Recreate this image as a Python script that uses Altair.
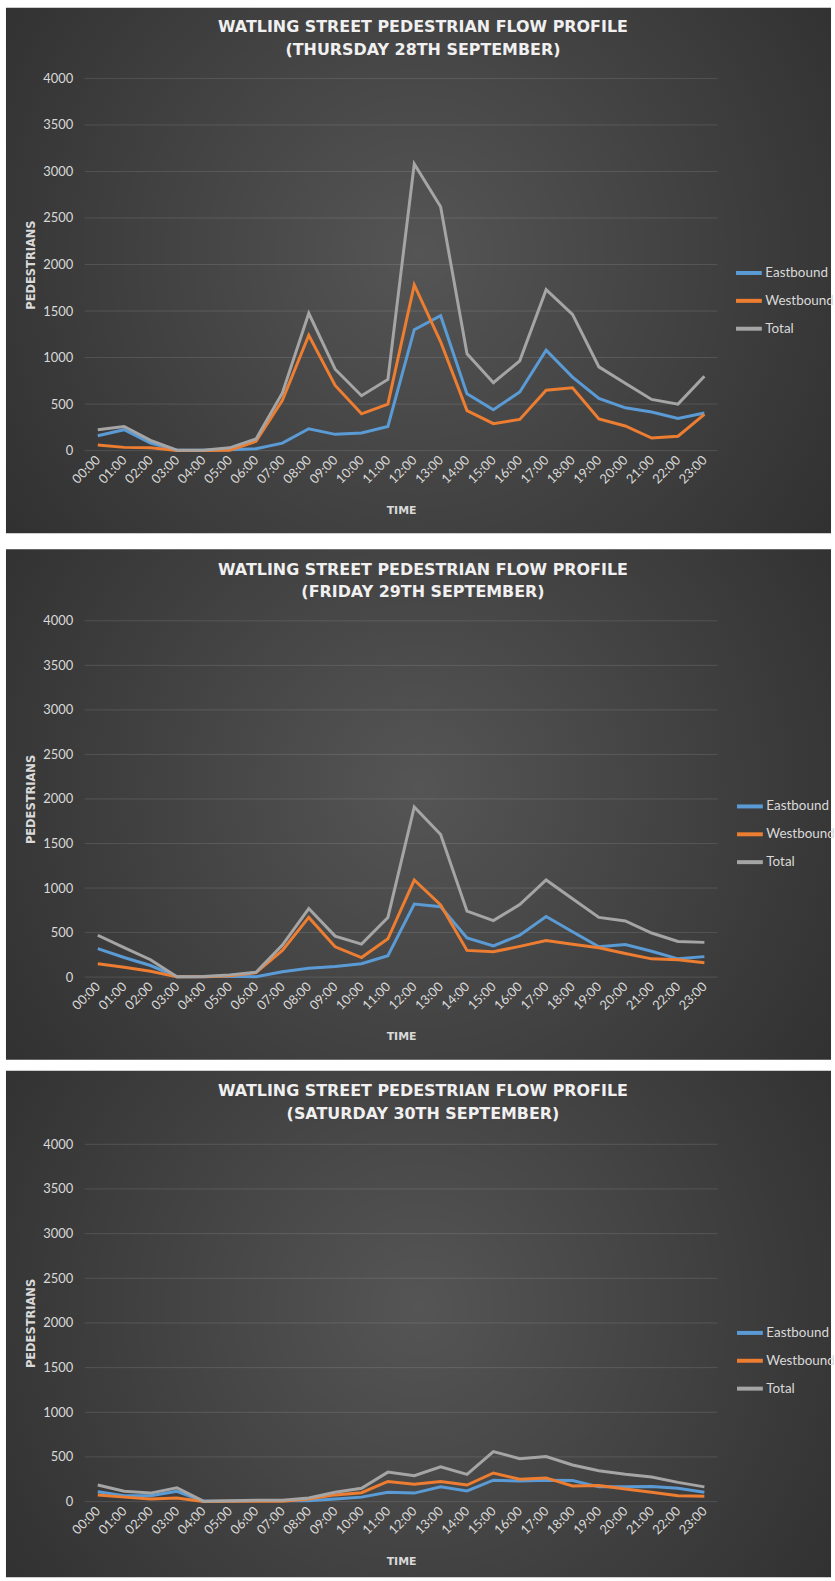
import altair as alt
import pandas as pd

# ---------------- data ----------------
hours = ["00:00", "01:00", "02:00", "03:00", "04:00", "05:00", "06:00", "07:00",
         "08:00", "09:00", "10:00", "11:00", "12:00", "13:00", "14:00", "15:00",
         "16:00", "17:00", "18:00", "19:00", "20:00", "21:00", "22:00", "23:00"]
series_names = ["Eastbound", "Westbound", "Total"]
series_colors = ["#5B9BD5", "#ED7D31", "#A5A5A5"]
y_ticks = [0, 500, 1000, 1500, 2000, 2500, 3000, 3500, 4000]

title_line1 = "WATLING STREET PEDESTRIAN FLOW PROFILE"
title_thu = "(THURSDAY 28TH SEPTEMBER)"
title_fri = "(FRIDAY 29TH SEPTEMBER)"
title_sat = "(SATURDAY 30TH SEPTEMBER)"

thu_east = [160, 225, 80, 5, 5, 10, 20, 80, 235, 175, 190, 260, 1300, 1450, 610, 440, 630, 1080, 790, 560, 460, 415, 345, 405]
thu_west = [60, 35, 30, 2, 2, 5, 100, 540, 1240, 700, 395, 500, 1780, 1170, 430, 290, 335, 650, 675, 340, 265, 135, 155, 390]
thu_total = [225, 260, 110, 5, 5, 30, 125, 620, 1475, 875, 590, 765, 3080, 2620, 1040, 730, 965, 1730, 1465, 900, 725, 550, 500, 800]

fri_east = [320, 220, 130, 5, 5, 10, 5, 60, 100, 120, 150, 240, 820, 790, 440, 350, 470, 680, 510, 340, 365, 290, 205, 230]
fri_west = [150, 110, 65, 3, 3, 15, 50, 300, 670, 340, 220, 430, 1090, 810, 300, 285, 345, 410, 370, 330, 265, 205, 195, 160]
fri_total = [470, 330, 195, 5, 8, 25, 55, 360, 770, 460, 370, 670, 1910, 1600, 740, 635, 815, 1090, 880, 670, 630, 495, 400, 390]

sat_east = [110, 65, 65, 115, 5, 5, 10, 10, 10, 30, 50, 105, 95, 165, 120, 240, 230, 240, 235, 165, 165, 170, 150, 105]
sat_west = [75, 50, 30, 40, 0, 5, 5, 5, 30, 75, 100, 225, 195, 225, 185, 320, 250, 265, 175, 180, 140, 105, 65, 60]
sat_total = [185, 115, 95, 155, 5, 10, 15, 15, 40, 105, 150, 330, 290, 390, 305, 560, 480, 505, 410, 345, 305, 275, 215, 165]

# ---------------- style ----------------
LABEL_FONT = "Lato"
TITLE_FONT = "DejaVu Sans"
LABEL_COLOR = "#d9d9d9"
PLOT_W = 636

bg_gradient = alt.RadialGradient(
    gradient="radial",
    stops=[alt.GradientStop(color="#555555", offset=0),
           alt.GradientStop(color="#262626", offset=1)],
    x1=0.5, y1=0.48, x2=0.5, y2=0.48, r1=0, r2=0.78,
)


def panel(subtitle, east, west, total, plot_h, top_off, bottom_off, legend_x, legend_y, t1_y, t2_y):
    rows = []
    for name, vals in zip(series_names, [east, west, total]):
        for h, v in zip(hours, vals):
            rows.append({"time": h, "series": name, "value": v})
    df = pd.DataFrame(rows)

    y_scale = alt.Scale(domain=[0, 4000], nice=False, zero=True)
    y_axis = alt.Axis(title="PEDESTRIANS", values=y_ticks, format="d", grid=False, zindex=1,
                      domain=False, ticks=False, labelPadding=12,
                      labelFont=LABEL_FONT, labelFontSize=13, labelColor=LABEL_COLOR,
                      titleFont=TITLE_FONT, titleFontWeight="bold", titleFontSize=11.5,
                      titleColor=LABEL_COLOR, titleAngle=270,
                      titleX=-53, titleY=plot_h / 2,
                      titleAlign="center", titleBaseline="middle")

    bg = alt.Chart(alt.Data(values=[{"panel": subtitle}])).mark_rect(
        fill=bg_gradient
    ).encode(
        x=alt.value(-79), x2=alt.value(750),
        y=alt.value(-top_off), y2=alt.value(plot_h + bottom_off),
    )

    grid = alt.Chart(alt.Data(values=[{"value": t} for t in y_ticks])).mark_rule(
        color="#ffffff", opacity=0.12, strokeWidth=1
    ).encode(
        y=alt.Y("value:Q", scale=y_scale, axis=y_axis),
        x=alt.value(0), x2=alt.value(PLOT_W),
    )

    lines = alt.Chart(df).mark_line(strokeWidth=3).encode(
        x=alt.X("time:N", sort=hours,
                scale=alt.Scale(type="point", padding=0.5),
                axis=alt.Axis(title="TIME", grid=False, domain=False, ticks=False, zindex=1,
                              labelAngle=315, labelAlign="right", labelBaseline="middle",
                              labelPadding=7, labelOverlap=False,
                              labelFont=LABEL_FONT, labelFontSize=13, labelColor=LABEL_COLOR,
                              titleFont=TITLE_FONT, titleFontWeight="bold", titleFontSize=11,
                              titleColor=LABEL_COLOR, titleX=PLOT_W / 2, titleY=60,
                              titleAlign="center", titleBaseline="middle")),
        y=alt.Y("value:Q", scale=y_scale, axis=y_axis),
        color=alt.Color("series:N", sort=series_names,
                        scale=alt.Scale(domain=series_names, range=series_colors),
                        legend=alt.Legend(title=None, orient="none",
                                          legendX=legend_x, legendY=legend_y,
                                          symbolType="M-2,0H2", symbolSize=169,
                                          symbolStrokeWidth=4, padding=0,
                                          labelFont=LABEL_FONT, labelFontSize=13.5,
                                          labelColor=LABEL_COLOR, labelOffset=8,
                                          rowPadding=11)),
    )

    def title_text(txt, y):
        return alt.Chart(alt.Data(values=[{"t": txt}])).mark_text(
            font=TITLE_FONT, fontSize=16, fontWeight="bold", color="#f0f0f0",
            align="center", baseline="middle"
        ).encode(text="t:N", x=alt.value(340), y=alt.value(y))

    return alt.layer(bg, grid, lines, title_text(title_line1, t1_y), title_text(subtitle, t2_y)).properties(
        width=PLOT_W, height=plot_h
    )


p1 = panel(title_thu, thu_east, thu_west, thu_total, 374, 71, 83, 659, 187, -52, -29)
p2 = panel(title_fri, fri_east, fri_west, fri_total, 358, 72, 83, 660, 178, -51, -28.5)
p3 = panel(title_sat, sat_east, sat_west, sat_total, 359, 74, 76, 660, 181, -54, -30)

top = alt.vconcat(p1, p2, spacing=16).resolve_scale(color="independent").resolve_legend(color="independent")
chart = alt.vconcat(top, p3, spacing=11).resolve_scale(
    color="independent").resolve_legend(color="independent").properties(
    padding={"left": 6, "top": 4, "right": 0, "bottom": 0},
    background="#ffffff",
).configure_view(strokeWidth=0)

chart.save("out.html", embed_options={"renderer": "svg", "actions": False})
